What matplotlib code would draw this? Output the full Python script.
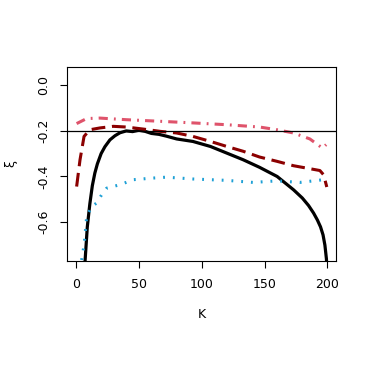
import matplotlib.pyplot as plt

# K values and xi estimates for each curve
k_black = [6, 7.2, 9, 11, 13, 15, 17, 20, 23, 27, 31, 35, 40, 45, 50, 55, 60, 66, 72, 80, 93,
           107, 120, 133, 146, 160, 173, 180, 185, 189, 192, 194.5, 196.5, 198, 199.2, 200]
xi_black = [-0.85, -0.77, -0.62, -0.52, -0.44, -0.385, -0.345, -0.30, -0.27, -0.24, -0.222,
            -0.209, -0.201, -0.204, -0.198, -0.203, -0.212, -0.216, -0.224, -0.236, -0.247,
            -0.269, -0.298, -0.327, -0.36, -0.40, -0.458, -0.494, -0.527, -0.56, -0.59,
            -0.62, -0.655, -0.70, -0.76, -0.85]

k_red = [0.5, 3.2, 6.4, 11, 19, 29.7, 40, 53.6, 67, 80, 93, 107, 120, 133, 146, 160, 173,
         186, 194, 197, 199.5]
xi_red = [-0.444, -0.327, -0.225, -0.196, -0.188, -0.181, -0.184, -0.193, -0.203, -0.21,
          -0.225, -0.247, -0.269, -0.29, -0.315, -0.334, -0.353, -0.366, -0.374, -0.393, -0.446]

k_pink = [0.5, 8.5, 19, 40, 67, 93, 120, 146, 160, 173, 186, 196, 199]
xi_pink = [-0.169, -0.147, -0.145, -0.152, -0.159, -0.166, -0.174, -0.184, -0.196, -0.21,
           -0.236, -0.276, -0.261]

k_cyan = [3.5, 4.5, 6.6, 8.5, 12.5, 16.4, 20.4, 24.4, 35, 45.6, 61, 72, 93, 120, 141, 160,
          178, 197]
xi_cyan = [-0.85, -0.765, -0.692, -0.575, -0.531, -0.516, -0.48, -0.451, -0.436, -0.414,
           -0.407, -0.403, -0.411, -0.417, -0.426, -0.419, -0.426, -0.414]

x_ticks = [0, 50, 100, 150, 200]
y_ticks = [-0.6, -0.4, -0.2, 0.0]

fig = plt.figure(figsize=(3.74, 3.74), dpi=100)
ax = fig.add_axes([0.179, 0.301, 0.719, 0.521])

ax.plot(k_black, xi_black, color='black', lw=2.3, solid_capstyle='butt')
ax.plot(k_red, xi_red, color='#8B0000', lw=2.2, dashes=(4.5, 2.2))
ax.plot(k_pink, xi_pink, color='#DF536B', lw=2.2, dashes=(3, 2, 0.6, 2))
ax.plot(k_cyan, xi_cyan, color='#1EA0D6', lw=2.2, dashes=(0.6, 2.6))
ax.axhline(-0.2, color='black', lw=0.9)

ax.set_xlim(-7.2, 206.7)
ax.set_ylim(-0.771, 0.080)
ax.set_xticks(x_ticks)
ax.set_yticks(y_ticks)
ax.set_xticklabels([str(v) for v in x_ticks], fontsize=9)
ax.set_yticklabels(['-0.6', '-0.4', '-0.2', '0.0'], fontsize=9, rotation=90, va='center')
ax.tick_params(direction='out', length=5, width=0.8, pad=7)
for s in ax.spines.values():
    s.set_linewidth(0.8)

ax.set_xlabel('K', fontsize=9, labelpad=12)
ax.set_ylabel('ξ', fontsize=9, labelpad=14)

plt.savefig('out.png', dpi=100)
